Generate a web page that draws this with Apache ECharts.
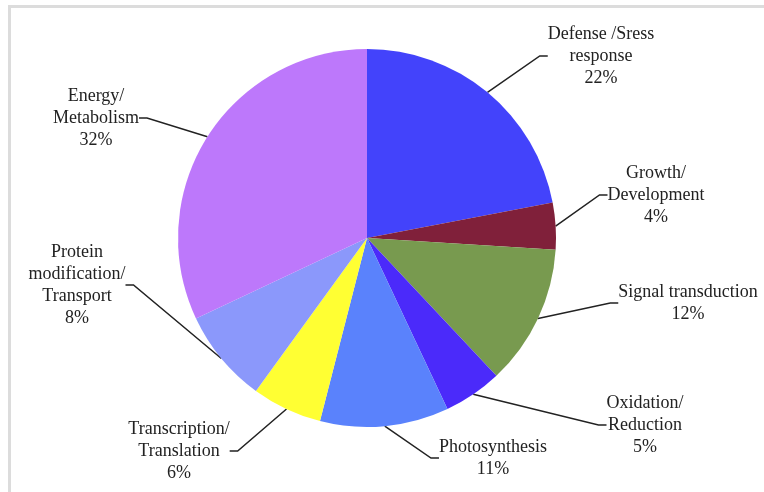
<!DOCTYPE html>
<html>
<head>
<meta charset="utf-8">
<script src="https://cdn.jsdelivr.net/npm/echarts@6/dist/echarts.min.js"></script>
<style>
html, body { margin: 0; padding: 0; background: #fff; }
#frame {
    position: absolute; left: 8px; top: 5px; width: 756px; height: 487px;
    border-top: 3px solid #dcdcdc; border-left: 3px solid #dcdcdc;
    box-sizing: border-box;
}
#main { position: absolute; left: 0; top: 0; width: 764px; height: 492px; }
</style>
</head>
<body>
<div id="frame"></div>
<div id="main"></div>
<script>
// categories, clockwise from 12 o'clock
var categories = [
    'Defense /Sress\nresponse',
    'Growth/\nDevelopment',
    'Signal transduction',
    'Oxidation/\nReduction',
    'Photosynthesis',
    'Transcription/\nTranslation',
    'Protein\nmodification/\nTransport',
    'Energy/\nMetabolism'
];
var values = [22, 4, 12, 5, 11, 6, 8, 32];
var colors = ['#4343fb', '#80203a', '#789a4f', '#4b2afa', '#5a82fc', '#ffff33', '#8b98fb', '#bd78fb'];

// where each label block sits (center x, center y, text align)
var labelPos = [
    [601, 56, 'center'],
    [656, 195, 'center'],
    [688, 303, 'center'],
    [645, 425, 'center'],
    [493, 458, 'center'],
    [179, 451, 'center'],
    [77, 285, 'center'],
    [96, 118, 'center']
];

var chart = echarts.init(document.getElementById('main'));

var data = categories.map(function (name, i) {
    return { name: name, value: values[i], itemStyle: { color: colors[i] } };
});

chart.setOption({
    backgroundColor: 'transparent',
    animation: false,
    series: [{
        type: 'pie',
        center: [367, 238],
        radius: 189,
        startAngle: 90,
        clockwise: true,
        data: data,
        itemStyle: { borderWidth: 0 },
        label: {
            show: true,
            formatter: function (p) { return p.name + '\n' + p.value + '%'; },
            fontFamily: '"Liberation Serif", "DejaVu Serif", serif',
            fontSize: 18,
            lineHeight: 22,
            color: '#222',
            align: 'center'
        },
        labelLine: {
            show: true,
            length: 20,
            length2: 8,
            lineStyle: { color: '#222', width: 1.5 }
        },
        labelLayout: function (params) {
            var p = labelPos[params.dataIndex];
            return { x: p[0], y: p[1], align: p[2], verticalAlign: 'middle' };
        }
    }]
});
</script>
</body>
</html>
